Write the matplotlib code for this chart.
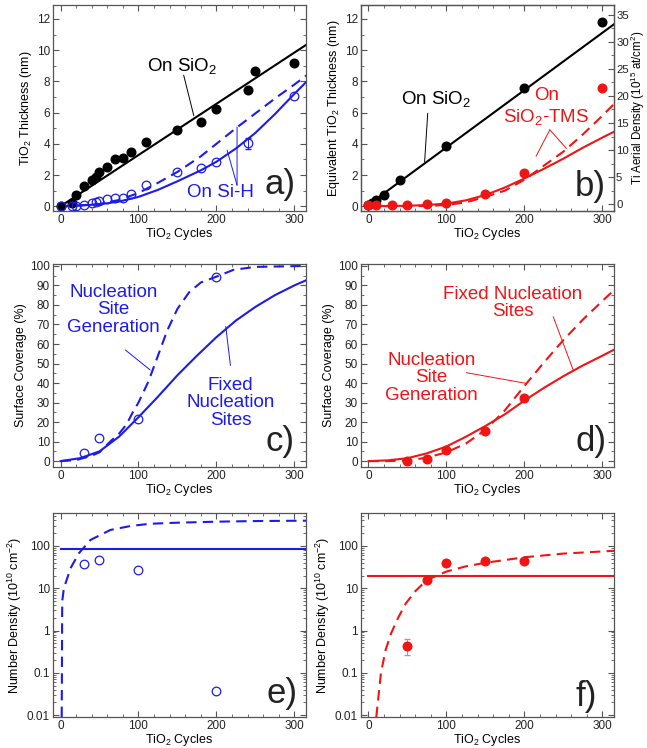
import matplotlib
matplotlib.use("Agg")
from matplotlib import pyplot as plt
from matplotlib.ticker import MultipleLocator, LogLocator, NullFormatter

plt.rcParams["font.family"] = ["Liberation Sans", "DejaVu Sans"]
plt.rcParams["mathtext.fontset"] = "custom"
plt.rcParams["mathtext.rm"] = "Liberation Sans"
plt.rcParams["mathtext.it"] = "Liberation Sans:italic"
plt.rcParams["axes.edgecolor"] = "#555555"
plt.rcParams["xtick.color"] = "#555555"
plt.rcParams["ytick.color"] = "#555555"
plt.rcParams["xtick.labelcolor"] = "#222222"
plt.rcParams["ytick.labelcolor"] = "#222222"

BLUE = "#1c1ce8"
RED = "#f01414"
BLACK = "#000000"

# a) TiO2 thickness on SiO2 and Si-H
a_cyc_sio2 = [0, 15, 20, 30, 40, 45, 50, 60, 70, 80, 90, 110, 150, 180, 200, 240, 250, 300]
a_thk_sio2 = [0.0, 0.2, 0.7, 1.28, 1.7, 1.87, 2.2, 2.5, 3.0, 3.07, 3.47, 4.1, 4.86, 5.37, 6.22, 7.42, 8.66, 9.17]
a_cyc_sih = [0, 15, 20, 30, 40, 45, 50, 60, 70, 80, 90, 110, 150, 180, 200, 240, 300]
a_thk_sih = [0.0, 0.0, 0.0, 0.05, 0.23, 0.25, 0.34, 0.49, 0.5, 0.55, 0.81, 1.34, 2.2, 2.45, 2.83, 4.05, 7.05]
a_err_cyc = [240]
a_err_thk = [4.05]
a_err = [0.35]
a_line_cyc = [0, 316]
a_line_sio2 = [0.0, 10.37]
a_model_cyc = [0, 25, 50, 75, 100, 125, 150, 180, 200, 225, 250, 275, 300, 316]
a_fixed_sih = [0, 0.05, 0.12, 0.3, 0.6, 1.05, 1.6, 2.3, 2.85, 3.7, 4.7, 5.9, 7.2, 8.0]
a_gen_sih = [0, 0.05, 0.15, 0.4, 0.85, 1.5, 2.2, 3.2, 4.0, 5.0, 5.95, 6.9, 7.8, 8.4]

# b) equivalent thickness on SiO2 and SiO2-TMS
b_cyc_sio2 = [0, 5, 10, 20, 40, 100, 200, 300]
b_thk_sio2 = [0.05, 0.2, 0.43, 0.75, 1.67, 3.88, 7.56, 11.8]
b_cyc_tms = [0, 10, 30, 50, 75, 100, 150, 200, 300]
b_thk_tms = [0.05, 0.05, 0.1, 0.05, 0.17, 0.24, 0.81, 2.1, 7.6]
b_line_cyc = [0, 316]
b_line_sio2 = [0.1, 11.7]
b_model_cyc = [0, 50, 75, 100, 125, 150, 175, 200, 225, 250, 275, 300, 316]
b_fixed_tms = [0, 0.03, 0.08, 0.17, 0.38, 0.72, 1.2, 1.78, 2.4, 3.05, 3.75, 4.4, 4.8]
b_gen_tms = [0, 0.0, 0.02, 0.08, 0.25, 0.6, 1.0, 1.7, 2.6, 3.5, 4.6, 5.8, 6.6]

# c) surface coverage on Si-H
c_cyc = [30, 50, 100, 200]
c_cov = [4.3, 11.6, 21.4, 94.2]
c_fixed_cyc = [0, 25, 50, 75, 100, 125, 150, 175, 200, 225, 250, 275, 300, 316]
c_fixed = [0, 1.5, 5, 12.5, 22.5, 33, 44, 54, 63.5, 72, 79, 85, 90, 92.8]
c_gen_cyc = [0, 20, 40, 50, 65, 75, 85, 92, 100, 113, 125, 137, 150, 165, 180, 200, 222, 250, 316]
c_gen = [0, 0.5, 2.8, 4.5, 10.5, 14, 19, 24.5, 30, 41, 54, 67, 78, 86.5, 91.5, 94.5, 98, 99.5, 100]

# d) surface coverage on SiO2-TMS
d_cyc = [50, 75, 100, 150, 200]
d_cov = [0, 1, 5.6, 15.4, 32.5]
d_model_cyc = [0, 25, 50, 75, 100, 125, 150, 175, 200, 225, 250, 275, 300, 316]
d_fixed = [0, 0.4, 1.5, 4, 7.5, 12.5, 18, 24, 31, 37.5, 43.5, 49, 54, 57.3]
d_gen = [0, 0, 0.3, 1.8, 4.5, 9, 16, 26, 38.5, 50.5, 62, 72.5, 82, 88]

# e) number density on Si-H
e_cyc = [30, 50, 100, 200]
e_dens = [37.6, 46.7, 26.6, 0.038]
e_fixed_cyc = [0, 316]
e_fixed = [83, 83]
e_gen_cyc = [1.5, 1.8, 2.0, 2.2, 4, 6.4, 12.8, 23.5, 38.5, 64, 90, 115, 150, 200, 250, 316]
e_gen = [0.009, 0.1, 1, 5, 9, 13, 29.7, 67, 139, 239, 297, 335, 355, 375, 388, 396]

# f) number density on SiO2-TMS
f_cyc = [50, 75, 100, 150, 200]
f_dens = [0.44, 15.7, 39, 43, 43]
f_err_cyc = [50]
f_err_dens = [0.44]
f_err = [[0.17], [0.18]]
f_fixed_cyc = [0, 316]
f_fixed = [19.5, 19.5]
f_gen_cyc = [10, 12, 16, 22, 29, 38, 48, 60, 75, 100, 125, 150, 200, 250, 316]
f_gen = [0.009, 0.02, 0.1, 0.35, 0.86, 2.0, 4.4, 8.5, 15.7, 24.8, 33, 40, 54, 66, 77]

log_ticks = [0.01, 0.1, 1, 10, 100]
log_labels = ["0.01", "0.1", "1", "10", "100"]

CYCLES = "TiO$\\mathregular{_2}$ Cycles"
MS = 6.2
LW = 1.5
DASH = (0, (5, 3))


def _style(ax, ymajor=None, yminor=None, right=True):
    ax.set_xlim(-10, 315)
    ax.xaxis.set_major_locator(MultipleLocator(100))
    ax.xaxis.set_minor_locator(MultipleLocator(20))
    if ymajor is not None:
        ax.yaxis.set_major_locator(MultipleLocator(ymajor))
        ax.yaxis.set_minor_locator(MultipleLocator(yminor))
    ax.tick_params(which="both", direction="in", top=True, right=right, labelsize=8.5, pad=2)
    ax.tick_params(which="major", length=4, width=0.8)
    ax.tick_params(which="minor", length=2, width=0.6)
    ax.set_xlabel(CYCLES, fontsize=9, labelpad=0)
    for sp in ax.spines.values():
        sp.set_linewidth(0.9)


def _point(ax, text, xy, xytext, color):
    ax.annotate(text, xy=xy, xytext=xytext,
                arrowprops=dict(arrowstyle="-", color=color, lw=0.7, shrinkA=0, shrinkB=0))


def _panel_label(ax, text, x, y):
    ax.text(x, y, text, transform=ax.transAxes, fontsize=25, ha="center", va="center",
            color="#222222")


def _open(ax, x, y, color):
    ax.plot(x, y, "o", ms=MS, mfc="none", mec=color, mew=0.9, ls="none")


def _filled(ax, x, y, color):
    ax.plot(x, y, "o", ms=MS, color=color, ls="none")


def _log_axis(ax):
    ax.set_yscale("log")
    ax.set_ylim(0.009, 600)
    ax.set_yticks(log_ticks, log_labels)
    ax.yaxis.set_minor_locator(LogLocator(base=10, subs=range(2, 10)))
    ax.yaxis.set_minor_formatter(NullFormatter())
    ax.tick_params(which="minor", length=2, width=0.6)
    ax.set_ylabel("Number Density (10$^{10}$ cm$^{-2}$)", fontsize=9, labelpad=2)


def main():
    fig = plt.figure(figsize=(6.47, 7.48), dpi=100)
    w = 0.3915
    ax_a = fig.add_axes([0.0815, 0.718, w, 0.2754])
    ax_b = fig.add_axes([0.5575, 0.718, w, 0.2754])
    ax_c = fig.add_axes([0.0815, 0.3757, w, 0.2714])
    ax_d = fig.add_axes([0.5575, 0.3757, w, 0.2714])
    ax_e = fig.add_axes([0.0815, 0.0414, w, 0.2727])
    ax_f = fig.add_axes([0.5575, 0.0414, w, 0.2727])

    # a)
    ax = ax_a
    _style(ax, 2, 1)
    ax.set_ylim(-0.3, 12.9)
    ax.plot(a_line_cyc, a_line_sio2, color=BLACK, lw=LW)
    ax.plot(a_model_cyc, a_fixed_sih, color=BLUE, lw=LW)
    ax.plot(a_model_cyc, a_gen_sih, color=BLUE, lw=LW, ls=DASH)
    _filled(ax, a_cyc_sio2, a_thk_sio2, BLACK)
    ax.errorbar(a_err_cyc, a_err_thk, yerr=a_err, fmt="none", ecolor=BLUE, elinewidth=0.7, capsize=2)
    _open(ax, a_cyc_sih, a_thk_sih, BLUE)
    ax.set_ylabel("TiO$\\mathregular{_2}$ Thickness (nm)", fontsize=9, labelpad=2)
    ax.text(156, 9.0, "On SiO$\\mathregular{_2}$", fontsize=13.5, ha="center", va="center")
    _point(ax, "", (171, 5.8), (158, 8.4), BLACK)
    ax.text(205, 0.85, "On Si-H", fontsize=13.5, ha="center", va="center", color=BLUE)
    _point(ax, "", (213.7, 3.6), (226.5, 1.35), BLUE)
    _point(ax, "", (226.5, 5.07), (226.5, 1.35), BLUE)
    _panel_label(ax, "a)", 0.897, 0.126)

    # b)
    ax = ax_b
    _style(ax, 2, 1, right=False)
    ax.set_ylim(-0.3, 12.9)
    ax.plot(b_line_cyc, b_line_sio2, color=BLACK, lw=LW)
    ax.plot(b_model_cyc, b_fixed_tms, color=RED, lw=LW)
    ax.plot(b_model_cyc, b_gen_tms, color=RED, lw=LW, ls=DASH)
    _filled(ax, b_cyc_sio2, b_thk_sio2, BLACK)
    _filled(ax, b_cyc_tms, b_thk_tms, RED)
    ax.set_ylabel("Equivalent TiO$\\mathregular{_2}$ Thickness (nm)", fontsize=9, labelpad=2)
    ax.text(87, 6.9, "On SiO$\\mathregular{_2}$", fontsize=13.5, ha="center", va="center")
    _point(ax, "", (72, 2.85), (76, 5.96), BLACK)
    ax.text(228, 7.1, "On", fontsize=13.5, ha="center", va="center", color=RED)
    ax.text(228, 5.7, "SiO$\\mathregular{_2}$-TMS", fontsize=13.5, ha="center", va="center", color=RED)
    _point(ax, "", (215, 3.2), (232.6, 4.9), RED)
    _point(ax, "", (254, 3.7), (232.6, 4.9), RED)
    _panel_label(ax, "b)", 0.905, 0.118)
    axr = ax.twinx()
    axr.set_ylim(-1.24, 36.8)
    axr.yaxis.set_major_locator(MultipleLocator(5))
    axr.yaxis.set_minor_locator(MultipleLocator(2.5))
    axr.tick_params(which="both", direction="in", labelsize=8.2, pad=1.5)
    axr.tick_params(which="major", length=4, width=0.8)
    axr.tick_params(which="minor", length=2, width=0.6)
    axr.set_ylabel("Ti Aerial Density (10$^{15}$ at/cm$^{2}$)", fontsize=8.3, labelpad=0)
    for sp in axr.spines.values():
        sp.set_linewidth(0.9)

    # c)
    ax = ax_c
    _style(ax, 10, 5)
    ax.set_ylim(-3, 101)
    ax.plot(c_fixed_cyc, c_fixed, color=BLUE, lw=LW)
    ax.plot(c_gen_cyc, c_gen, color=BLUE, lw=LW, ls=DASH)
    _open(ax, c_cyc, c_cov, BLUE)
    ax.set_ylabel("Surface Coverage (%)", fontsize=9, labelpad=2)
    ax.text(68, 77.5, "Nucleation\nSite\nGeneration", fontsize=13.5, ha="center", va="center",
            color=BLUE, linespacing=1.05)
    _point(ax, "", (115, 46.7), (83.3, 56.9), BLUE)
    ax.text(218, 29.8, "Fixed\nNucleation\nSites", fontsize=13.5, ha="center", va="center",
            color=BLUE, linespacing=1.05)
    _point(ax, "", (212, 69), (218, 49), BLUE)
    _panel_label(ax, "c)", 0.897, 0.125)

    # d)
    ax = ax_d
    _style(ax, 10, 5)
    ax.set_ylim(-3, 101)
    ax.plot(d_model_cyc, d_fixed, color=RED, lw=LW)
    ax.plot(d_model_cyc, d_gen, color=RED, lw=LW, ls=DASH)
    _filled(ax, d_cyc, d_cov, RED)
    ax.set_ylabel("Surface Coverage (%)", fontsize=9, labelpad=2)
    ax.text(185.5, 81, "Fixed Nucleation\nSites", fontsize=13.5, ha="center", va="center",
            color=RED, linespacing=1.05)
    _point(ax, "", (262.6, 46.7), (237, 74), RED)
    ax.text(80.6, 42.6, "Nucleation\nSite\nGeneration", fontsize=13.5, ha="center", va="center",
            color=RED, linespacing=1.05)
    _point(ax, "", (202.7, 39.8), (125.6, 45.3), RED)
    _panel_label(ax, "d)", 0.91, 0.125)

    # e)
    ax = ax_e
    _style(ax)
    _log_axis(ax)
    ax.plot(e_fixed_cyc, e_fixed, color=BLUE, lw=LW)
    ax.plot(e_gen_cyc, e_gen, color=BLUE, lw=LW, ls=DASH)
    _open(ax, e_cyc, e_dens, BLUE)
    _panel_label(ax, "e)", 0.905, 0.116)

    # f)
    ax = ax_f
    _style(ax)
    _log_axis(ax)
    ax.plot(f_fixed_cyc, f_fixed, color=RED, lw=LW)
    ax.plot(f_gen_cyc, f_gen, color=RED, lw=LW, ls=DASH)
    ax.errorbar(f_err_cyc, f_err_dens, yerr=f_err, fmt="none", ecolor="#e08080", elinewidth=0.7, capsize=2)
    _filled(ax, f_cyc, f_dens, RED)
    _panel_label(ax, "f)", 0.89, 0.1)

    fig.savefig("out.png", dpi=100)


if __name__ == "__main__":
    main()
